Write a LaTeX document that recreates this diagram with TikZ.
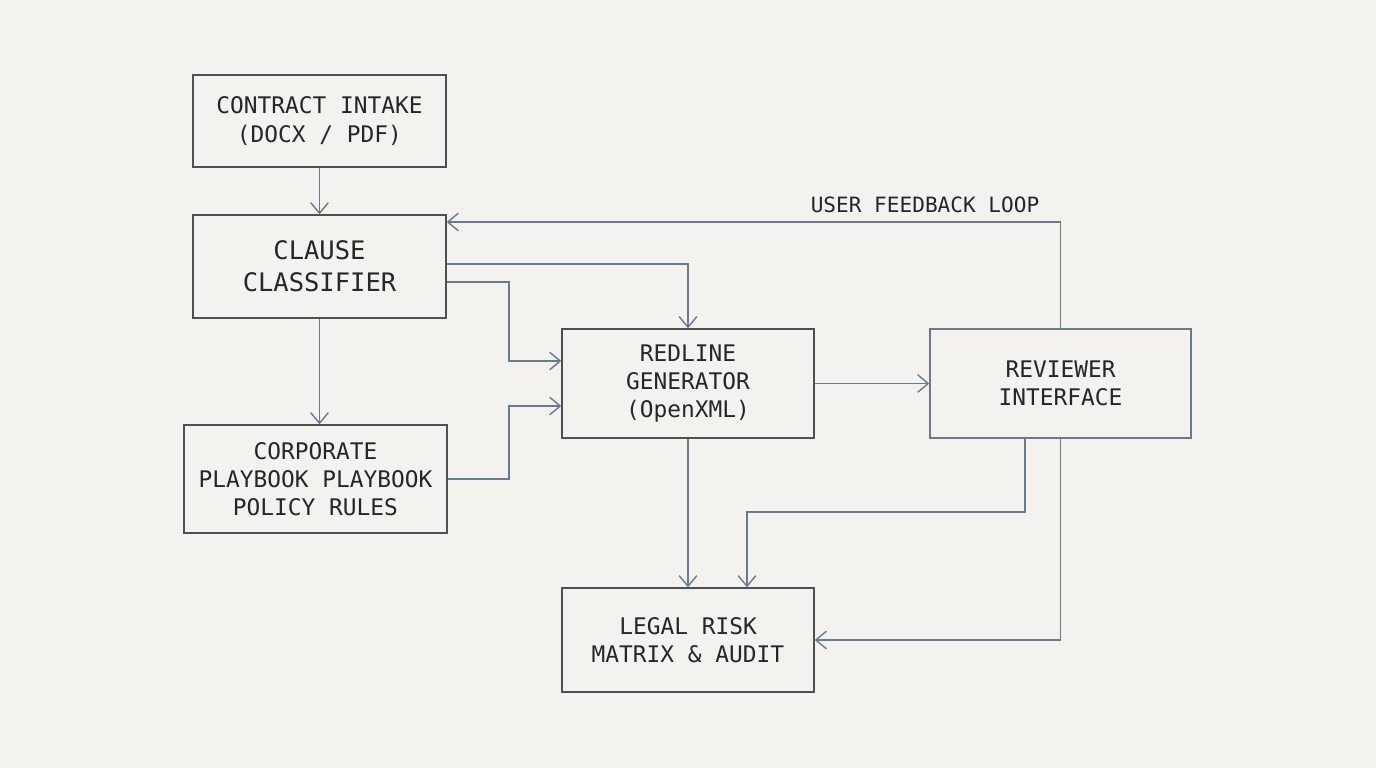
\documentclass[tikz,border=0pt]{standalone}
\usepackage{fontspec}
\setmainfont{DejaVu Sans Mono}
\usetikzlibrary{positioning, arrows.meta}
\definecolor{bgpaper}{HTML}{F4F2EE}
\definecolor{boxline}{HTML}{4F4F4F}
\definecolor{flowline}{HTML}{6A7A8E}
\tikzset{
  block/.style={draw=boxline, thick, align=center, font=\fontsize{13}{16}\selectfont, text=black!85, inner sep=0pt},
  flow/.style={draw=flowline, thick, -{Straight Barb[length=6pt, width=10pt]}}
}
\begin{document}
\begin{tikzpicture}[x=0.02cm, y=-0.02cm]
  \fill[bgpaper] (0,0) rectangle (1376,768);
  \useasboundingbox (0,0) rectangle (1376,768);
  % boxes
  \node[block, minimum width=5.06cm, minimum height=1.84cm] (intake) at (319.5,121) {CONTRACT INTAKE\\(DOCX / PDF)};
  \node[block, minimum width=5.06cm, minimum height=2.06cm, font=\fontsize{14.5}{18}\selectfont] (classifier) at (319.5,266.5) {CLAUSE\\CLASSIFIER};
  \node[block, minimum width=5.26cm, minimum height=2.16cm] (playbook) at (315.5,479) {CORPORATE\\PLAYBOOK PLAYBOOK\\POLICY RULES};
  \node[block, minimum width=5.04cm, minimum height=2.18cm] (redline) at (688,383.5) {REDLINE\\GENERATOR\\(OpenXML)};
  \node[block, draw=flowline, minimum width=5.22cm, minimum height=2.18cm] (reviewer) at (1060.5,383.5) {REVIEWER\\INTERFACE};
  \node[block, minimum width=5.04cm, minimum height=2.08cm] (legal) at (688,640) {LEGAL RISK\\MATRIX \& AUDIT};
  % connectors
  \draw[flow] (intake) -- (classifier);
  \draw[flow] (classifier.south) -- (playbook.north -| classifier.south);
  \draw[flow] (classifier.east |- 0,264) -| (redline.north);
  \draw[flow] (classifier.east |- 0,282) -- (509,282) |- (redline.west |- 0,361);
  \draw[flow] (playbook.east) -- (509,479) |- (redline.west |- 0,406);
  \draw[flow] (redline) -- (reviewer);
  \draw[flow] (reviewer.north) |- (classifier.east |- 0,222);
  \node[font=\fontsize{12}{14}\selectfont, text=black!85] (looplabel) at (925,205) {USER FEEDBACK LOOP};
  \draw[flow] (redline) -- (legal);
  \draw[flow] (reviewer.south -| 1025,0) -- (1025,512) -| (legal.north -| 747,0);
  \draw[flow] (reviewer.south) |- (legal.east);
\end{tikzpicture}
\end{document}
